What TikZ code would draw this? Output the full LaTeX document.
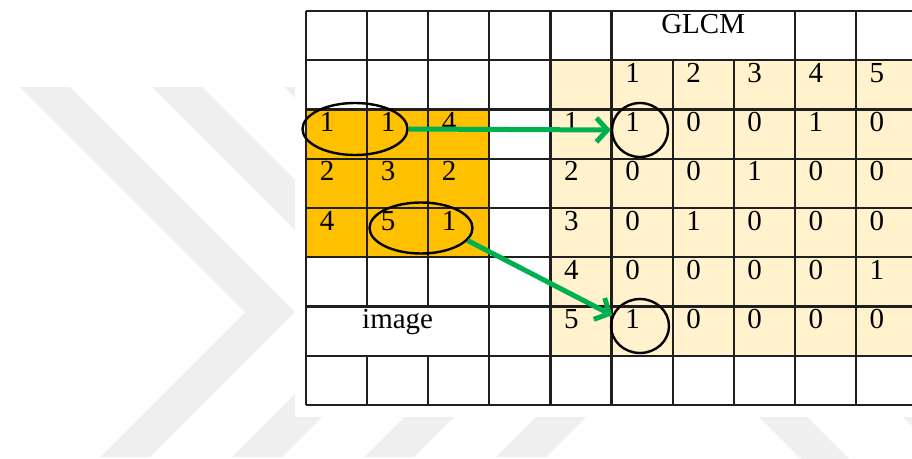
\documentclass[tikz,border=0pt]{standalone}
\usepackage{fontspec}
\setmainfont{Liberation Serif}
\usetikzlibrary{arrows.meta,shapes.geometric}

\definecolor{imgfill}{HTML}{FFC000}
\definecolor{glfill}{HTML}{FFF2CC}
\definecolor{arrgreen}{HTML}{00B050}
\definecolor{wmark}{HTML}{EFEFEF}

\begin{document}
\begin{tikzpicture}[
    x=1pt, y=-1pt,
    cell/.style={anchor=base, inner sep=0pt, font=\fontsize{29}{31}\selectfont},
    grid/.style={line width=2.2pt, color=black!88},
    ring/.style={draw, ellipse, line width=2.4pt, inner sep=0pt},
    arr/.style={-{Straight Barb[length=11pt, width=24pt]}, line width=5pt, color=arrgreen},
    wm/.style={fill=wmark, draw=none},
  ]
  \clip (0,0) rectangle (912,458);
  \def\cw{61.1}
  \def\rh{49.25}

  % watermark
  \foreach \a in {245,377,509,641}
    \fill[wm] (\a-225,87) -- (\a-175,87) -- (\a+50,312) -- (\a-95,457)
      -- (\a-145,457) -- (\a,312) -- cycle;
  \fill[wm] (740,398) -- (788,398) -- (850,460) -- (802,460) -- cycle;
  \fill[wm] (884,398) -- (932,398) -- (994,460) -- (946,460) -- cycle;
  \fill[white] (295,0) rectangle (912,417);

  % cell fills
  \fill[imgfill] (306,{11+2*\rh}) rectangle ({306+3*\cw},{11+5*\rh});
  \fill[glfill] ({306+4*\cw},{11+\rh}) rectangle (917,{11+7*\rh});

  % grid
  \foreach \j in {0,...,8}
    \draw[grid] (306,{11+\rh*\j}) -- (917,{11+\rh*\j});
  \foreach \i in {0,3,4,5,8,9,10}
    \draw[grid] ({306+\cw*\i},11) -- ({306+\cw*\i},405);
  \foreach \i in {1,2} {
    \draw[grid] ({306+\cw*\i},11) -- ({306+\cw*\i},{11+6*\rh});
    \draw[grid] ({306+\cw*\i},{11+7*\rh}) -- ({306+\cw*\i},405);
  }
  \foreach \i in {6,7}
    \draw[grid] ({306+\cw*\i},{11+\rh}) -- ({306+\cw*\i},405);

  % image values
  \foreach \row [count=\r from 2] in {{1,1,4},{2,3,2},{4,5,1}}
    \foreach \v [count=\c from 0] in \row
      \node[cell] (img-\r-\c) at ({306+\cw*\c+21},{11+\rh*\r+22}) {\v};

  % GLCM header, row labels and counts
  \foreach \v [count=\c from 5] in {1,2,3,4,5}
    \node[cell] (gl-1-\c) at ({306+\cw*\c+21},{11+\rh+22}) {\v};
  \foreach \v [count=\r from 2] in {1,2,3,4,5}
    \node[cell] (gl-\r-4) at ({306+\cw*4+21},{11+\rh*\r+22}) {\v};
  \foreach \row [count=\r from 2] in {{1,0,0,1,0},{0,0,1,0,0},{0,1,0,0,0},{0,0,0,0,1},{1,0,0,0,0}}
    \foreach \v [count=\c from 5] in \row
      \node[cell] (gl-\r-\c) at ({306+\cw*\c+21},{11+\rh*\r+22}) {\v};

  \node[cell] (glcm) at ({306+6.5*\cw},33) {GLCM};
  \node[cell] (image) at ({306+1.5*\cw},{11+6*\rh+22}) {image};

  % pairs and their counts
  \node[ring, minimum width=105pt, minimum height=52pt] (e1) at (355,129) {};
  \node[ring, minimum width=103pt, minimum height=51pt] (e2) at (421,228) {};
  \node[ring, minimum width=56pt, minimum height=54pt] (c1) at (640,130) {};
  \node[ring, minimum width=58pt, minimum height=54pt] (c2) at (640,326) {};

  \draw[arr] (e1.east) -- (c1.west);
  \draw[arr] (e2.-15) -- (c2.159);
\end{tikzpicture}
\end{document}
